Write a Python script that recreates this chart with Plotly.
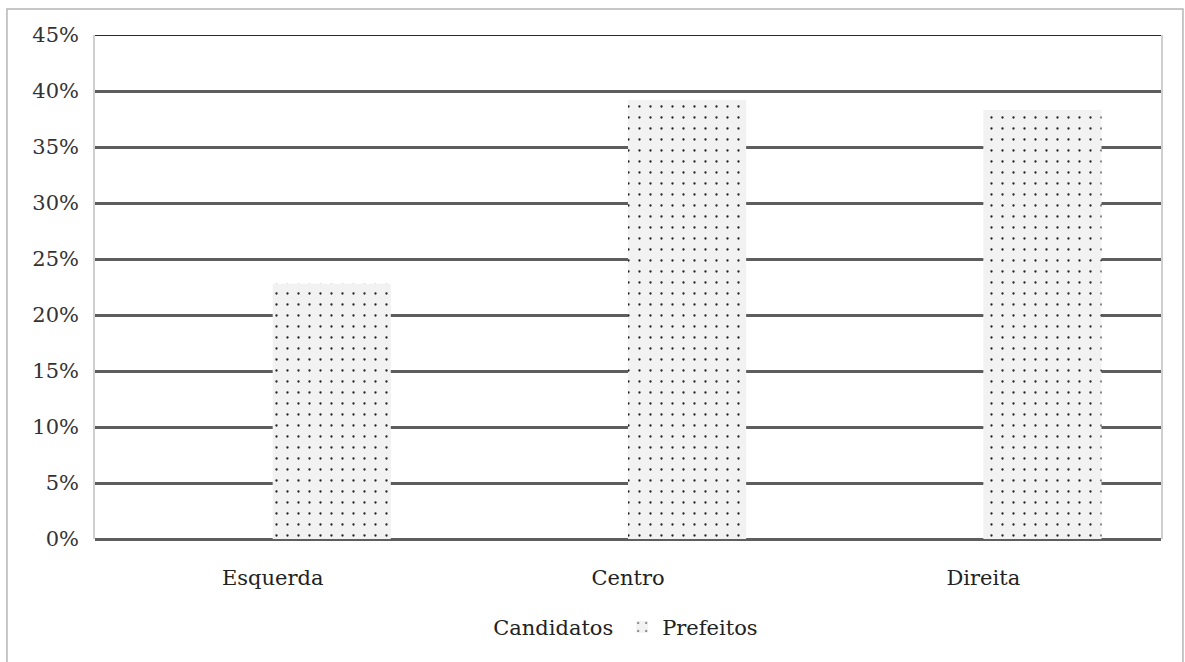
import plotly.graph_objects as go

categorias = ["Esquerda", "Centro", "Direita"]
candidatos = [None, None, None]
prefeitos = [22.8, 39.2, 38.3]
ticks_y = [0, 5, 10, 15, 20, 25, 30, 35, 40, 45]
rotulos_y = [f"{v}%" for v in ticks_y]

fonte = "DejaVu Serif, serif"
tam = 21

fig = go.Figure()
# Série sem valores: ocupa o primeiro lugar de cada grupo e aparece só na legenda
fig.add_trace(go.Bar(
    x=categorias, y=candidatos, name="Candidatos",
    marker=dict(color="white", line=dict(width=0)),
))
fig.add_trace(go.Bar(
    x=categorias,
    y=prefeitos,
    name="Prefeitos",
    marker=dict(
        color="#f2f2f2",
        line=dict(width=0),
        pattern=dict(shape=".", fgcolor="#222222", bgcolor="#f2f2f2",
                     size=11, solidity=0.035, fillmode="replace"),
    ),
))

fig.update_layout(
    width=1185, height=662,
    margin=dict(l=95, r=24, t=35, b=123),
    paper_bgcolor="white", plot_bgcolor="white",
    barmode="group", bargap=0.335, bargroupgap=0,
    font=dict(family=fonte, size=tam, color="#222222"),
    showlegend=True,
    legend=dict(
        orientation="h", x=0.336, xanchor="left", y=-0.175, yanchor="middle",
        font=dict(family=fonte, size=tam), itemwidth=30, traceorder="normal",
        entrywidth=124,
    ),
    xaxis=dict(
        showgrid=False, showline=False, ticks="", tickfont=dict(size=tam),
        ticklabelstandoff=24,
    ),
    yaxis=dict(
        range=[0, 45], tickvals=ticks_y, ticktext=rotulos_y,
        showgrid=True, gridcolor="#5e5e5e", gridwidth=2.5,
        zeroline=True, zerolinecolor="#5e5e5e", zerolinewidth=2.5,
        showline=True, linecolor="#cfcfcf", linewidth=1.5, mirror=True,
        ticks="", ticklabelstandoff=10, tickfont=dict(size=tam, color="#333333"),
    ),
    shapes=[
        dict(type="rect", xref="paper", yref="paper",
             x0=-0.0826, x1=1.0206, y0=-0.5, y1=1.0516,
             line=dict(color="#b5b5b5", width=1.5), layer="below"),
        dict(type="line", xref="paper", yref="y", x0=0, x1=1, y0=45, y1=45,
             line=dict(color="#2a2a2a", width=2)),
    ],
)

fig.write_html("out.html")
